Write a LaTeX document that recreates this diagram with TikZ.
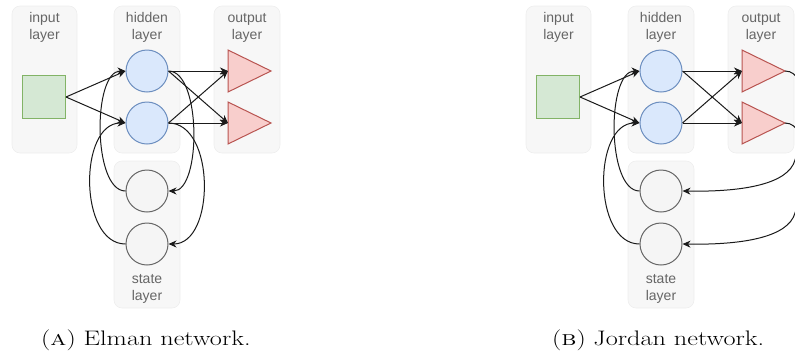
\documentclass[tikz,border=0pt]{standalone}
\usepackage{fontspec}
\usepackage{graphicx}
\newfontfamily\lblfont{Liberation Sans}
\usetikzlibrary{arrows.meta}

\definecolor{panelfill}{HTML}{F7F7F7}
\definecolor{panelline}{HTML}{EEEEEE}
\definecolor{lbltext}{HTML}{666666}
\definecolor{infill}{HTML}{D5E8D4}
\definecolor{indraw}{HTML}{82B366}
\definecolor{hidfill}{HTML}{DAE8FC}
\definecolor{hiddraw}{HTML}{6C8EBF}
\definecolor{outfill}{HTML}{F8CECC}
\definecolor{outdraw}{HTML}{B85450}
\definecolor{stfill}{HTML}{F5F5F5}
\definecolor{stdraw}{HTML}{666666}
\definecolor{edgecol}{HTML}{1A1A1A}

\tikzset{
  panel/.style={fill=panelfill, draw=panelline, line width=0.6pt, rounded corners=8pt},
  % base anchor of a two-line label sits on the baseline of its last line
  lbl/.style={font=\lblfont\fontsize{14}{16.6}\selectfont, text=lbltext, align=center, inner sep=0pt, anchor=base},
  insq/.style={draw=indraw, fill=infill, line width=1pt, minimum size=43pt, inner sep=0pt},
  hid/.style={circle, draw=hiddraw, fill=hidfill, line width=1pt, minimum size=42pt, inner sep=0pt},
  st/.style={circle, draw=stdraw, fill=stfill, line width=1pt, minimum size=42pt, inner sep=0pt},
  outtri/.style={draw=outdraw, fill=outfill, line width=1pt, line join=miter},
  arr/.style={draw=edgecol, line width=1pt, -{Stealth[length=8pt, width=7pt, inset=2.5pt]}},
  captext/.style={font=\fontsize{21}{25}\selectfont, inner sep=0pt, anchor=base west},
}

% panels, layer labels, units and the feed-forward connections of one network
\newcommand\netcore[1]{%
  \path[panel] (12,6) rectangle (77,153);
  \path[panel] (114,6) rectangle (180,153);
  \path[panel] (214,6) rectangle (280,153);
  \path[panel] (114,161) rectangle (180,308);
  \node[lbl] (#1Lin)  at (44.5,39.5) {input\\layer};
  \node[lbl] (#1Lhid) at (147,39.5)  {hidden\\layer};
  \node[lbl] (#1Lout) at (247,39.5)  {output\\layer};
  \node[lbl] (#1Lst)  at (147,300)   {state\\layer};
  \node[insq] (#1in) at (44,97) {};
  \node[hid] (#1h1) at (147,71) {};
  \node[hid] (#1h2) at (147,123) {};
  \node[st]  (#1s1) at (147,191) {};
  \node[st]  (#1s2) at (147,244) {};
  \path[outtri] (228,50) -- (271,71) -- (228,92) -- cycle;
  \path[outtri] (228,102) -- (271,123) -- (228,144) -- cycle;
  \coordinate (#1o1w) at (228,71);
  \coordinate (#1o1e) at (271,71);
  \coordinate (#1o2w) at (228,123);
  \coordinate (#1o2e) at (271,123);
  \draw[arr] (#1in.east) -- (#1h1.west);
  \draw[arr] (#1in.east) -- (#1h2.west);
  \draw[arr] (#1h1.east) -- (#1o1w);
  \draw[arr] (#1h1.east) -- (#1o2w);
  \draw[arr] (#1h2.east) -- (#1o1w);
  \draw[arr] (#1h2.east) -- (#1o2w);
  \draw[arr] (#1s1.west) .. controls +(-33,0) and +(-33,0) .. (#1h1.west);
  \draw[arr] (#1s2.west) .. controls +(-47,0) and +(-47,0) .. (#1h2.west);
}

\begin{document}
\begin{tikzpicture}[x=1pt, y=-1pt]
  \useasboundingbox (0,0) rectangle (795,354);

  % Elman network: hidden units feed the state units
  \begin{scope}
    \netcore{e}
    \draw[arr] (eh1.east) .. controls +(33,0) and +(33,0) .. (es1.east);
    \draw[arr] (eh2.east) .. controls +(47,0) and +(47,0) .. (es2.east);
  \end{scope}

  % Jordan network: output units feed the state units
  \begin{scope}[shift={(514,0)}]
    \netcore{j}
    \draw[arr] (jo1e) .. controls (298,71) and (289,136) .. (281,160)
                      .. controls (274,185) and (226,192) .. (js1.east);
    \draw[arr] (jo2e) .. controls (298,123) and (289,189) .. (281,213)
                      .. controls (274,238) and (226,245) .. (js2.east);
  \end{scope}

  % captions, set a little wide
  \node[captext] (capA) at (41,345)
    {\scalebox{1.25}[1]{\makebox[34pt][l]{(\textsc{a})}Elman network.}};
  \node[captext] (capB) at (552,345)
    {\scalebox{1.25}[1]{\makebox[33pt][l]{(\textsc{b})}Jordan network.}};
\end{tikzpicture}
\end{document}
